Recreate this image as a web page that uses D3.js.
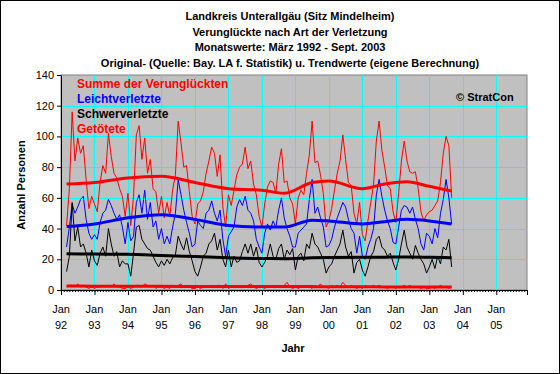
<!DOCTYPE html>
<html>
<head>
<meta charset="utf-8">
<script src="https://cdnjs.cloudflare.com/ajax/libs/d3/7.8.5/d3.min.js"></script>
<style>
body { margin: 0; background: #fff; }
svg { font-family: "Liberation Sans", Arial, sans-serif; }
</style>
</head>
<body>
<script>
// Monatswerte ab Maerz 1992 (Index 0 = Maerz 1992)
var startMonat = 2;
var summe = [
42,66,116,84,99,89,94,72,53,61,
56,51,70,81,76,102,87,76,73,66,61,48,
63,42,61,101,107,85,99,76,85,66,64,50,
61,47,57,48,65,75,110,96,80,81,64,48,
43,56,58,64,76,84,93,89,74,88,54,41,
62,55,65,75,80,82,93,79,84,69,62,48,
41,56,67,71,70,63,82,92,70,71,60,56,
43,60,65,62,76,88,110,83,84,75,63,41,
45,53,65,76,84,101,85,70,68,50,43,57,
36,32,45,57,68,97,110,91,80,68,66,51,
44,63,84,97,84,77,76,77,66,51,45,49,
51,52,55,58,70,89,100,94,60];
var leicht = [
28,41,56,50,54,59,61,46,37,33,
36,33,44,50,52,59,55,50,46,49,41,30,
44,32,35,57,62,50,65,46,57,41,45,33,
40,30,35,30,41,50,72,62,52,44,37,28,
30,45,42,40,50,52,58,50,45,52,33,22,
35,38,41,54,59,55,61,52,50,45,33,28,
24,37,43,39,45,41,52,60,47,40,35,28,
28,37,39,41,43,59,72,50,54,47,41,28,
29,33,41,47,52,57,54,46,40,37,24,35,
22,20,28,33,40,62,72,61,52,45,40,31,
30,41,52,55,54,50,54,46,40,30,26,37,
35,30,40,34,50,59,72,60,43];
var schwer = [
12,22,57,32,41,28,30,24,15,26,
19,16,24,28,22,40,30,22,25,15,19,17,
17,9,24,41,42,33,30,27,26,22,18,15,
19,16,20,17,21,23,35,30,26,34,25,19,
12,9,15,22,24,30,32,37,26,33,20,15,
26,15,22,18,19,25,30,24,30,22,28,18,
15,18,22,30,22,20,27,30,20,26,23,27,
13,22,24,19,30,27,37,30,28,24,20,11,
15,17,22,26,30,39,28,22,25,11,18,20,
13,9,15,22,25,33,35,28,26,22,24,18,
13,20,30,39,28,24,20,29,24,20,17,11,
15,20,14,22,17,28,26,33,15];
var tote = [
2,3,3,2,4,2,3,2,1,2,
1,2,2,3,2,3,2,4,2,2,1,1,
2,1,2,3,3,2,4,3,2,3,1,2,
2,1,2,1,3,2,3,4,2,3,2,1,
1,2,1,2,2,2,3,2,3,3,1,4,
1,2,2,3,2,2,2,3,4,2,1,2,
2,1,2,2,3,2,3,2,3,5,2,1,
2,1,2,2,3,2,1,3,2,4,2,2,
1,3,2,3,2,5,3,2,3,2,1,2,
1,3,2,2,3,2,3,2,2,1,2,2,
1,2,2,3,2,3,2,2,2,1,2,1,
1,2,1,2,3,2,2,1,2];

// Trendwerte (Monate seit Jan 1992)
var trendMonat  = [2, 12, 24, 36, 48, 60, 72, 80, 90, 96, 108, 116, 124, 132, 140];
var trendSumme  = [69, 70, 73, 74, 70, 66, 65, 63, 70, 71, 66, 69, 70.5, 67.5, 64.5];
var trendLeicht = [41.3, 43, 47, 49, 46, 42, 41, 41, 45.5, 45, 43, 44.5, 46, 45, 43];
var trendSchwer = [23.6, 23.4, 23.2, 22.5, 21.8, 21, 20.5, 20.4, 21, 21.2, 21.3, 21.4, 21.5, 21.3, 21];
var trendTote   = [2.6, 2.5, 2.5, 2.4, 2.3, 2.3, 2.2, 2.2, 2.2, 2.1, 2.1, 2.0, 2.0, 1.9, 1.9];

var jahre = ["92","93","94","95","96","97","98","99","00","01","02","03","04","05"];
var yTicks = [0, 20, 40, 60, 80, 100, 120, 140];
var titel = [
  "Landkreis Unterallgäu (Sitz Mindelheim)",
  "Verunglückte nach Art der Verletzung",
  "Monatswerte:  März 1992 - Sept. 2003",
  "Original- (Quelle: Bay. LA f. Statistik) u. Trendwerte (eigene Berechnung)"
];
var legende = [
  {t: "Summe der Verunglückten", c: "#ff0000"},
  {t: "Leichtverletzte", c: "#0000ff"},
  {t: "Schwerverletzte", c: "#000000"},
  {t: "Getötete", c: "#ff0000"}
];

var w = 560, h = 374;
var pLeft = 61, pRight = 527, pTop = 75, pBottom = 290;

var svg = d3.select("body").append("svg")
  .attr("width", w).attr("height", h);

svg.append("rect").attr("x", 0.5).attr("y", 0.5)
  .attr("width", w - 1).attr("height", h - 1)
  .attr("fill", "#fff").attr("stroke", "#000");

var x = d3.scaleLinear().domain([0, 167]).range([pLeft, pRight]);
var y = d3.scaleLinear().domain([0, 140]).range([pBottom, pTop]);

// Plotflaeche
svg.append("rect").attr("x", pLeft).attr("y", pTop)
  .attr("width", pRight - pLeft).attr("height", pBottom - pTop)
  .attr("fill", "#c0c0c0").attr("stroke", "#808080");

// Gitterlinien
svg.selectAll("line.hg").data(yTicks.slice(1, -1)).enter().append("line")
  .attr("x1", pLeft).attr("x2", pRight)
  .attr("y1", function(d) { return Math.round(y(d)) + 0.5; })
  .attr("y2", function(d) { return Math.round(y(d)) + 0.5; })
  .attr("stroke", "#00ffff");
svg.selectAll("line.vg").data(jahre.slice(1)).enter().append("line")
  .attr("x1", function(d, i) { return Math.round(x((i + 1) * 12)) + 0.5; })
  .attr("x2", function(d, i) { return Math.round(x((i + 1) * 12)) + 0.5; })
  .attr("y1", pTop).attr("y2", pBottom)
  .attr("stroke", "#00ffff");

// Linien
function linie(werte) {
  return d3.line()
    .x(function(d, i) { return x(i + startMonat); })
    .y(function(d) { return y(d); })(werte);
}
function trend(werte) {
  return d3.line()
    .curve(d3.curveMonotoneX)
    .x(function(d, i) { return x(trendMonat[i]); })
    .y(function(d) { return y(d); })(werte);
}

var duenn = [[summe, "#ff0000"], [leicht, "#0000ff"], [schwer, "#000000"], [tote, "#ff0000"]];
duenn.forEach(function(s) {
  svg.append("path").attr("d", linie(s[0]))
    .attr("fill", "none").attr("stroke", s[1]).attr("stroke-width", 1);
});
var dick = [[trendSumme, "#ff0000"], [trendLeicht, "#0000ff"], [trendSchwer, "#000000"], [trendTote, "#ff0000"]];
dick.forEach(function(s) {
  svg.append("path").attr("d", trend(s[0]))
    .attr("fill", "none").attr("stroke", s[1]).attr("stroke-width", 3);
});

// Achsen
var yAxis = d3.axisLeft(y).tickValues(yTicks).tickSize(4).tickPadding(3);
var gy = svg.append("g").attr("transform", "translate(" + pLeft + ",0)").call(yAxis);
gy.select(".domain").attr("stroke", "#000");
gy.selectAll("text").attr("font-size", 11).attr("fill", "#000")
  .attr("font-family", "Liberation Sans, Arial, sans-serif");

var xMinor = d3.axisBottom(x).tickValues(d3.range(0, 168)).tickSize(2).tickFormat("");
svg.append("g").attr("transform", "translate(0," + pBottom + ")").call(xMinor)
  .select(".domain").remove();

var xAxis = d3.axisBottom(x).tickValues(jahre.map(function(d, i) { return i * 12; }))
  .tickSize(5).tickFormat("");
var gx = svg.append("g").attr("transform", "translate(0," + pBottom + ")").call(xAxis);
gx.select(".domain").attr("stroke", "#000");

svg.selectAll("text.jan").data(jahre).enter().append("text")
  .attr("x", function(d, i) { return x(i * 12); })
  .attr("y", 313).attr("text-anchor", "middle").attr("font-size", 11)
  .text("Jan");
svg.selectAll("text.jahr").data(jahre).enter().append("text")
  .attr("x", function(d, i) { return x(i * 12); })
  .attr("y", 329).attr("text-anchor", "middle").attr("font-size", 11)
  .text(function(d) { return d; });

// Titel und Beschriftungen
svg.selectAll("text.titel").data(titel).enter().append("text")
  .attr("x", 290).attr("y", function(d, i) { return 20 + i * 15.5; })
  .attr("text-anchor", "middle").attr("font-size", 11).attr("font-weight", "bold")
  .text(function(d) { return d; });

svg.selectAll("text.leg").data(legende).enter().append("text")
  .attr("x", 77).attr("y", function(d, i) { return 87.5 + i * 15; })
  .attr("font-size", 12).attr("font-weight", "bold")
  .attr("fill", function(d) { return d.c; })
  .text(function(d) { return d.t; });

svg.append("text").attr("x", 456).attr("y", 101)
  .attr("font-size", 11).attr("font-weight", "bold").text("© StratCon");

svg.append("text").attr("transform", "translate(25,185) rotate(-90)")
  .attr("text-anchor", "middle").attr("font-size", 11).attr("font-weight", "bold")
  .text("Anzahl Personen");

svg.append("text").attr("x", 293).attr("y", 352)
  .attr("text-anchor", "middle").attr("font-size", 11).attr("font-weight", "bold")
  .text("Jahr");
</script>
</body>
</html>
